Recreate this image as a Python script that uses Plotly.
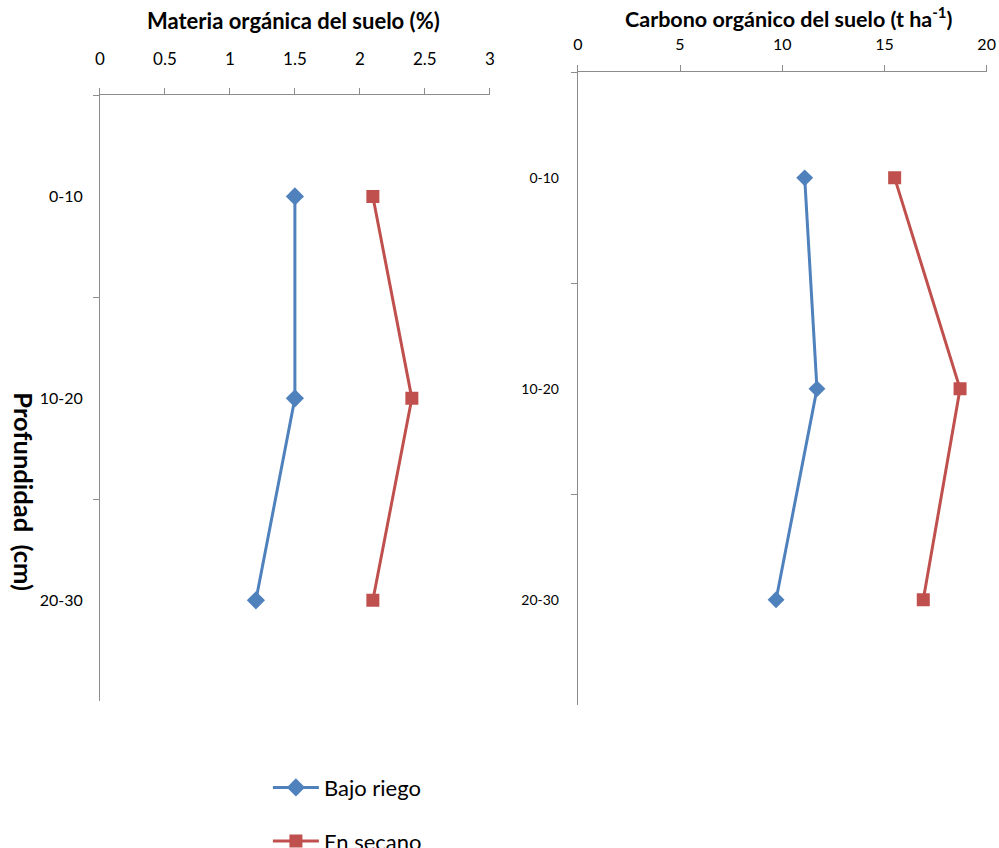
import plotly.graph_objects as go

profundidad = ["0-10", "10-20", "20-30"]
mo_bajo_riego = [1.5, 1.5, 1.2]
mo_en_secano = [2.1, 2.4, 2.1]
co_bajo_riego = [11.1, 11.7, 9.7]
co_en_secano = [15.5, 18.7, 16.9]
mo_ticks = [0, 0.5, 1, 1.5, 2, 2.5, 3]
co_ticks = [0, 5, 10, 15, 20]

BLUE = "#4F81BD"
RED = "#C0504D"
FONT = "Lato, Open Sans, sans-serif"

# compensation for the observed rendering scale of the capture
AX, SX = 3.0, 0.9865
AY, SY = 0.0, 0.993
W, H = 1010, 863
fig = go.Figure()


def fx(a):
    return (a - AX) / SX


def fy(a):
    return (a - AY) / SY


def px_x(a, b):
    return [fx(a) / W, fx(b) / W]


def px_y(top, bottom):
    return [1 - fy(bottom) / H, 1 - fy(top) / H]


def sx(a):
    return fx(a) / W


def sy(a):
    return 1 - fy(a) / H


fig.add_trace(go.Scatter(x=mo_bajo_riego, y=profundidad, mode="lines+markers", name="Bajo riego",
                         line=dict(color=BLUE, width=3), marker=dict(symbol="diamond", size=14, color=BLUE),
                         xaxis="x", yaxis="y", legendgroup="a"))
fig.add_trace(go.Scatter(x=mo_en_secano, y=profundidad, mode="lines+markers", name="En secano",
                         line=dict(color=RED, width=3), marker=dict(symbol="square", size=13, color=RED),
                         xaxis="x", yaxis="y", legendgroup="b"))
fig.add_trace(go.Scatter(x=co_bajo_riego, y=profundidad, mode="lines+markers", name="Bajo riego",
                         line=dict(color=BLUE, width=3), marker=dict(symbol="diamond", size=13, color=BLUE),
                         xaxis="x2", yaxis="y2", showlegend=False))
fig.add_trace(go.Scatter(x=co_en_secano, y=profundidad, mode="lines+markers", name="En secano",
                         line=dict(color=RED, width=3), marker=dict(symbol="square", size=13, color=RED),
                         xaxis="x2", yaxis="y2", showlegend=False))

axis_common = dict(showgrid=False, zeroline=False, showline=True, linecolor="#8c8c8c", linewidth=1,
                   ticks="outside", tickcolor="#8c8c8c", ticklen=6)

fig.update_layout(
    width=W, height=H,
    margin=dict(l=0, r=0, t=0, b=0),
    paper_bgcolor="white", plot_bgcolor="white",
    font=dict(family=FONT, color="#000"),
    xaxis=dict(domain=px_x(98, 488), range=[0, 3], side="top", anchor="y", tickvals=mo_ticks,
               ticktext=[str(t) for t in mo_ticks], tickfont=dict(size=17), ticklabelstandoff=17,
               **axis_common),
    yaxis=dict(domain=px_y(95, 698), anchor="x", type="category", categoryarray=profundidad,
               range=[2.5, -0.5], tickson="boundaries", tickfont=dict(size=16), ticklabelstandoff=13,
               **axis_common),
    xaxis2=dict(domain=px_x(576, 985), range=[0, 20], side="top", anchor="y2", tickvals=co_ticks,
                ticktext=[str(t) for t in co_ticks], tickfont=dict(size=16), ticklabelstandoff=9,
                **axis_common),
    yaxis2=dict(domain=px_y(72, 702), anchor="x2", type="category", categoryarray=profundidad,
                range=[2.5, -0.5], tickson="boundaries", tickfont=dict(size=14), ticklabelstandoff=15,
                **axis_common),
    legend=dict(x=sx(266), y=sy(763), xanchor="left", yanchor="top", orientation="v",
                tracegroupgap=22, font=dict(size=22, family=FONT), itemwidth=46,
                bgcolor="rgba(0,0,0,0)"),
    showlegend=True,
)

fig.add_annotation(text="<b>Materia orgánica del suelo (%)</b>", x=sx(292), y=sy(20),
                   xref="paper", yref="paper", showarrow=False, font=dict(size=22, family=FONT),
                   xanchor="center", yanchor="middle")
fig.add_annotation(text="<b>Carbono orgánico del suelo (t ha<sup>-1</sup>)</b>", x=sx(787), y=sy(17),
                   xref="paper", yref="paper", showarrow=False, font=dict(size=21.5, family=FONT),
                   xanchor="center", yanchor="middle")
fig.add_annotation(text="<b>Profundidad  (cm)</b>", x=sx(22), y=sy(490), textangle=90,
                   xref="paper", yref="paper", showarrow=False, font=dict(size=25.5, family=FONT),
                   xanchor="center", yanchor="middle")

fig.write_html(
    "out.html",
    config={"displayModeBar": False},
    post_script="document.body.style.margin='0';"
                "document.documentElement.style.overflow='hidden';"
                "document.body.style.overflow='hidden';",
)
